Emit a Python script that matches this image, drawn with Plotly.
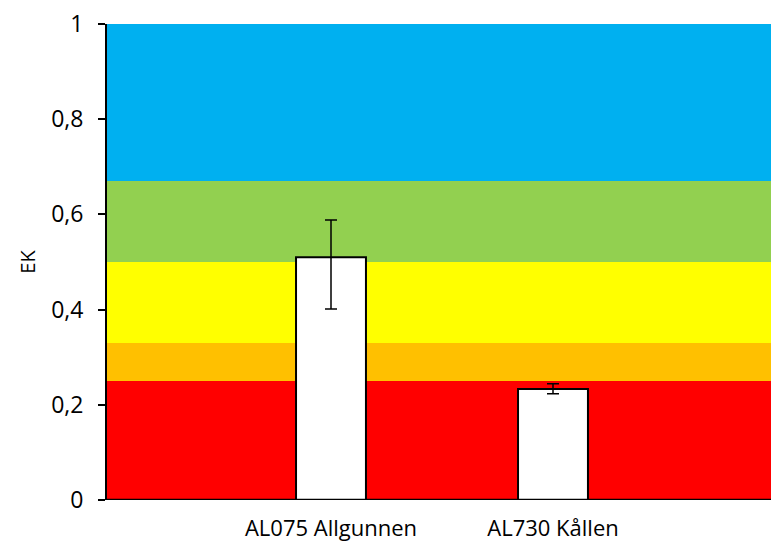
import plotly.graph_objects as go

categories = ["AL075 Allgunnen", "AL730 Kållen"]
values = [0.51, 0.233]
err_plus = [0.078, 0.011]
err_minus = [0.109, 0.010]

band_edges = [0, 0.25, 0.33, 0.5, 0.67, 1.0]
band_colors = ["#FF0000", "#FFC000", "#FFFF00", "#92D050", "#00B0F0"]

y_ticks = [0, 0.2, 0.4, 0.6, 0.8, 1]

xpos = list(range(len(categories)))

fig = go.Figure()
fig.add_trace(go.Bar(
    x=xpos, y=values, width=0.315,
    marker=dict(color="white", line=dict(color="black", width=2)),
    error_y=dict(type="data", symmetric=False, array=err_plus, arrayminus=err_minus,
                 color="black", thickness=1.5, width=6),
    showlegend=False,
))

shapes = []
for i, c in enumerate(band_colors):
    shapes.append(dict(type="rect", xref="paper", yref="y", x0=0, x1=1,
                       y0=band_edges[i], y1=band_edges[i + 1],
                       fillcolor=c, line=dict(width=0), layer="below"))
shapes.append(dict(type="line", xref="paper", yref="y", x0=0, x1=0, y0=0, y1=-0.015,
                   line=dict(color="black", width=2)))
shapes.append(dict(type="line", xref="paper", yref="y", x0=0, x1=1, y0=0, y1=0,
                   line=dict(color="black", width=2.5)))

fig.update_layout(
    width=771, height=547,
    margin=dict(l=107, r=0, t=24, b=47),
    paper_bgcolor="white", plot_bgcolor="white",
    separators=",.",
    font=dict(family="Open Sans, Liberation Sans, sans-serif", size=23, color="black"),
    shapes=shapes,
    xaxis=dict(range=[-1.009, 1.982], tickvals=xpos, ticktext=categories,
               showgrid=False, zeroline=False, showline=False, automargin=False,
               ticks="outside", ticklen=9, tickcolor="rgba(0,0,0,0)",
               tickfont=dict(size=22)),
    yaxis=dict(range=[0, 1], tickvals=y_ticks, showgrid=False, zeroline=False,
               showline=True, linecolor="black", linewidth=2, automargin=False,
               ticks="outside", ticklen=7, tickwidth=2, tickcolor="black",
               ticklabelstandoff=10,
               title=dict(text="EK", font=dict(size=20), standoff=10),
               tickfont=dict(size=23)),
)

fig.write_html("out.html",
               config={"displayModeBar": False},
               post_script="document.body.style.margin='0';document.body.style.overflow='hidden';")
